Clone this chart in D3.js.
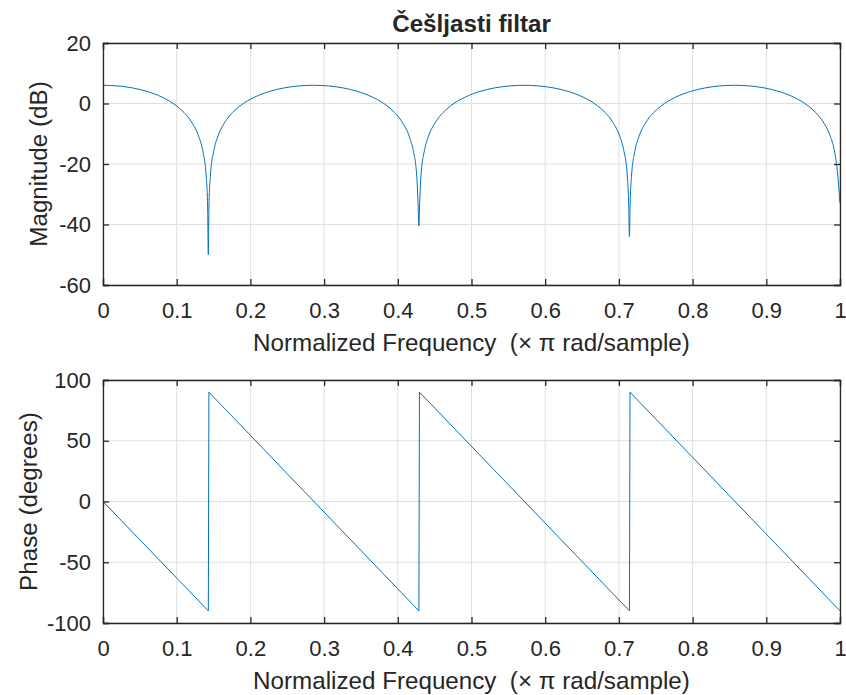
<!DOCTYPE html>
<html><head><meta charset="utf-8">
<script src="https://cdn.jsdelivr.net/npm/d3@7"></script>
<style>body{margin:0;background:#fff}svg{display:block}text{font-family:"Liberation Sans",Arial,sans-serif;fill:#262626}</style>
</head><body>
<script>
const title = "Češljasti filtar";
const xLabel = "Normalized Frequency  (× π rad/sample)";
const xTicks = [0,0.1,0.2,0.3,0.4,0.5,0.6,0.7,0.8,0.9,1];
const magTicks = [20,0,-20,-40,-60];
const phaseTicks = [100,50,0,-50,-100];
const magFreq = [0,0.02,0.04,0.06,0.08,0.10,0.11,0.12,0.13,0.135,0.14,0.142,0.1429,
 0.1437,0.1457,0.1507,0.1557,0.1657,0.1757,0.1857,0.2057,0.2257,0.2457,0.2657,0.2857,
 0.3057,0.3257,0.3457,0.3657,0.3857,0.3957,0.4057,0.4157,0.4207,0.4257,0.4277,0.4286,
 0.4294,0.4314,0.4364,0.4414,0.4514,0.4614,0.4714,0.4914,0.5114,0.5314,0.5514,0.5714,
 0.5914,0.6114,0.6314,0.6514,0.6714,0.6814,0.6914,0.7014,0.7064,0.7114,0.7134,0.7143,
 0.7151,0.7171,0.7221,0.7271,0.7371,0.7471,0.7571,0.7771,0.7971,0.8171,0.8371,0.8571,
 0.8771,0.8971,0.9171,0.9371,0.9571,0.9671,0.9771,0.9871,0.9921,0.9971,0.9991,1.0];
const magDb = [6.02,5.81,5.15,3.98,2.11,-0.84,-3.01,-6.07,-11.0,-15.25,-24.0,-34.5,-50,
 -34.5,-24.0,-15.25,-11.0,-6.07,-3.01,-0.84,2.11,3.98,5.15,5.81,6.02,
 5.81,5.15,3.98,2.11,-0.84,-3.01,-6.07,-11.0,-15.25,-24.0,-34.5,-40.5,
 -34.5,-24.0,-15.25,-11.0,-6.07,-3.01,-0.84,2.11,3.98,5.15,5.81,6.02,
 5.81,5.15,3.98,2.11,-0.84,-3.01,-6.07,-11.0,-15.25,-24.0,-34.5,-44,
 -34.5,-24.0,-15.25,-11.0,-6.07,-3.01,-0.84,2.11,3.98,5.15,5.81,6.02,
 5.81,5.15,3.98,2.11,-0.84,-3.01,-6.07,-11.0,-15.25,-24.0,-30,-33];
const phaseFreq = [0,0.1429,0.1437,0.4286,0.4294,0.7143,0.7151,1.0];
const phaseDeg = [0,-90,90,-90,90,-90,90,-90];

const W=846,H=695;
const svg=d3.select("body").append("svg").attr("width",W).attr("height",H);
const L=103,R=840;
const x=d3.scaleLinear().domain([0,1]).range([L,R]);
const TICK_FS=22, LAB_FS=24.2;

function panel(top,bottom,ydom,yticks,ylabel,xs,ys,curve,ylabX){
  const y=d3.scaleLinear().domain(ydom).range([bottom,top]);
  const g=svg.append("g");
  g.selectAll(".gx").data(xTicks).join("line").attr("x1",d=>x(d)).attr("x2",d=>x(d))
    .attr("y1",top).attr("y2",bottom).attr("stroke","#dfdfdf").attr("stroke-width",1);
  g.selectAll(".gy").data(yticks).join("line").attr("y1",d=>y(d)).attr("y2",d=>y(d))
    .attr("x1",L).attr("x2",R).attr("stroke","#dfdfdf").attr("stroke-width",1);
  const pts=xs.map((f,i)=>[f,ys[i]]);
  g.append("path").datum(pts).attr("fill","none").attr("stroke","#0072BD").attr("stroke-width",1)
    .attr("d",d3.line().x(d=>x(d[0])).y(d=>y(d[1])).curve(curve));
  const ax=d3.axisBottom(x).tickValues(xTicks).tickSize(-6).tickPadding(17).tickFormat(d=>d===0||d===1?String(d):d.toFixed(1));
  const ay=d3.axisLeft(y).tickValues(yticks).tickSize(-6).tickPadding(12).tickFormat(d=>String(d));
  const axT=d3.axisTop(x).tickValues(xTicks).tickSize(-6).tickFormat("");
  const ayR=d3.axisRight(y).tickValues(yticks).tickSize(-6).tickFormat("");
  [[ax,`translate(0,${bottom})`],[ay,`translate(${L},0)`],[axT,`translate(0,${top})`],[ayR,`translate(${R},0)`]].forEach(([a,t])=>{
    const s=g.append("g").attr("transform",t).call(a);
    s.select(".domain").attr("stroke","#262626").attr("stroke-width",1.3);
    s.selectAll(".tick line").attr("stroke","#262626").attr("stroke-width",1.3);
    s.selectAll(".tick text").attr("font-size",TICK_FS).attr("fill","#262626");
  });
  g.append("text").attr("x",(L+R)/2).attr("y",bottom+66).attr("text-anchor","middle").attr("font-size",LAB_FS)
    .style("white-space","pre").text(xLabel);
  g.append("text").attr("transform",`translate(${ylabX},${(top+bottom)/2}) rotate(-90)`).attr("text-anchor","middle")
    .attr("font-size",LAB_FS).text(ylabel);
}
panel(43,285,[-60,20],magTicks,"Magnitude (dB)",magFreq,magDb,d3.curveMonotoneX,47);
panel(380,623,[-100,100],phaseTicks,"Phase (degrees)",phaseFreq,phaseDeg,d3.curveLinear,37);
svg.append("text").attr("x",(L+R)/2).attr("y",32).attr("text-anchor","middle").attr("font-size",LAB_FS)
  .attr("font-weight","bold").text(title);
</script>
</body></html>
